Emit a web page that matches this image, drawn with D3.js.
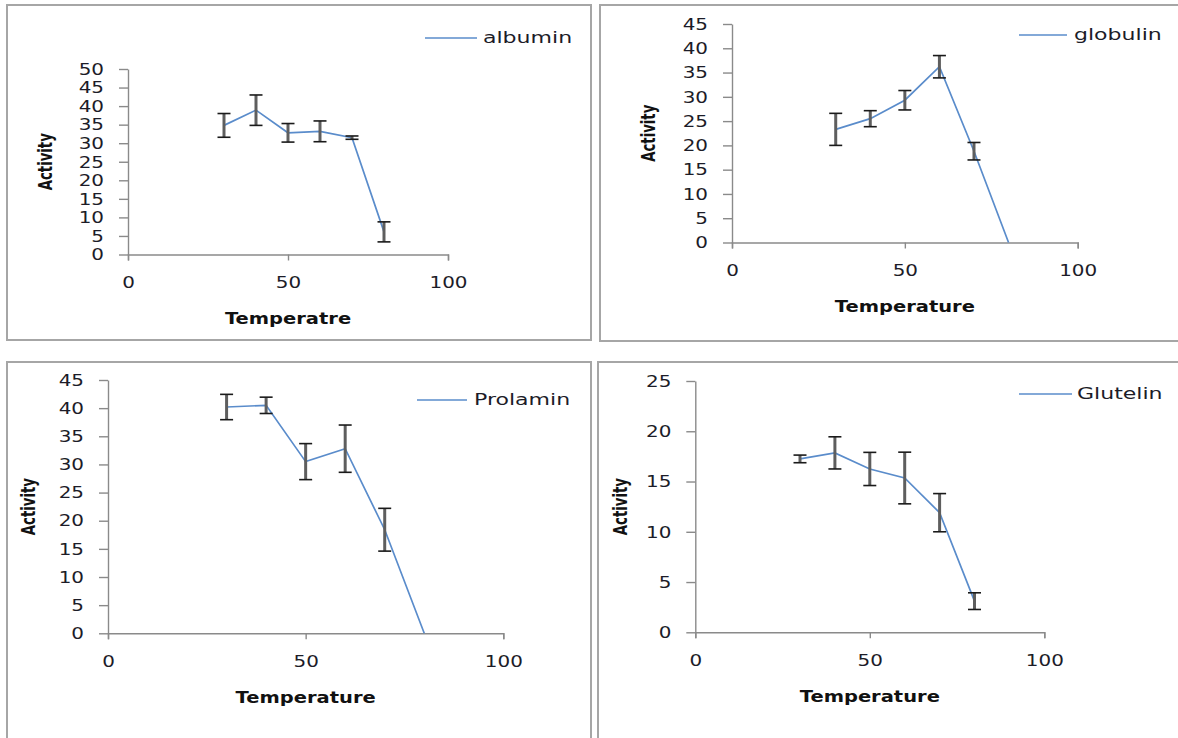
<!DOCTYPE html>
<html>
<head>
<meta charset="utf-8">
<script src="https://cdn.jsdelivr.net/npm/d3@7"></script>
<style>
  html, body { margin: 0; padding: 0; background: #fff; }
  svg { display: block; }
</style>
</head>
<body>
<div id="chart"></div>
<script>
// data
var temps = [30, 40, 50, 60, 70, 80];

var albumin    = [34.8, 38.9, 32.8, 33.2, 31.5, 6.1];
var albuminErr = [3.2, 4.1, 2.5, 2.8, 0.45, 2.7];

var globulin    = [23.3, 25.5, 29.3, 36.2, 18.8, 0];
var globulinErr = [3.3, 1.65, 2.0, 2.3, 1.8, 0];

var prolamin    = [40.2, 40.5, 30.5, 32.8, 18.4, 0];
var prolaminErr = [2.25, 1.45, 3.2, 4.2, 3.8, 0];

var glutelin    = [17.25, 17.85, 16.25, 15.35, 11.9, 3.1];
var glutelinErr = [0.38, 1.6, 1.65, 2.57, 1.9, 0.83];

var seriesNames = ["albumin", "globulin", "Prolamin", "Glutelin"];
var seriesValues = [albumin, globulin, prolamin, glutelin];
var seriesErrors = [albuminErr, globulinErr, prolaminErr, glutelinErr];
var yMax = [50, 45, 45, 25];
var xTicks = [0, 50, 100];
var xTitles = ["Temperatre", "Temperature", "Temperature", "Temperature"];
var yTitle = "Activity";

// layout of each panel (pixels)
var layout = [
  { box: [7, 5, 591, 340],   x: [128, 448],     y: [254.5, 69],  leg: [425, 477, 38, 483],   yTitleX: 45 },
  { box: [600, 5, 1190, 341], x: [732, 1077.7], y: [242.5, 24],  leg: [1019, 1067, 35, 1074], yTitleX: 648 },
  { box: [7, 362, 591, 760], x: [108, 503.3],   y: [633.3, 380], leg: [417, 467, 400, 474],  yTitleX: 28 },
  { box: [598, 362, 1190, 760], x: [695.3, 1044.3], y: [632.3, 381], leg: [1019, 1072, 394, 1077], yTitleX: 620 }
];

var width = 1178, height = 738;
var lineColor = "#5a8ccb";
var axisColor = "#8a8a8a";
var textColor = "#1c1c28";
var sx = 1.33;   // the source picture is stretched sideways

var svg = d3.select("#chart").append("svg")
    .attr("width", width).attr("height", height);

layout.forEach(function(L, k) {
  var g = svg.append("g").attr("class", "panel");

  g.append("rect")
    .attr("x", L.box[0]).attr("y", L.box[1])
    .attr("width", L.box[2] - L.box[0]).attr("height", L.box[3] - L.box[1])
    .attr("fill", "#fff").attr("stroke", "#a6a6a6").attr("stroke-width", 2);

  var xScale = d3.scaleLinear().domain([0, 100]).range(L.x);
  var yScale = d3.scaleLinear().domain([0, yMax[k]]).range(L.y);

  var xAxis = d3.axisBottom(xScale).tickValues(xTicks).tickSize(6).tickSizeOuter(6);
  var yAxis = d3.axisLeft(yScale).tickValues(d3.range(0, yMax[k] + 1, 5)).tickSize(9).tickSizeOuter(0);

  var gx = g.append("g").attr("transform", "translate(0," + L.y[0] + ")").call(xAxis);
  var gy = g.append("g").attr("transform", "translate(" + L.x[0] + ",0)").call(yAxis);

  [gx, gy].forEach(function(a) {
    a.select(".domain").attr("stroke", axisColor).attr("stroke-width", 1.4);
    a.selectAll(".tick line").attr("stroke", axisColor).attr("stroke-width", 1.4);
    a.selectAll("text")
      .attr("fill", textColor)
      .style("font-family", "'DejaVu Sans', Verdana, sans-serif")
      .style("font-size", "15px");
  });
  gx.selectAll("text").attr("y", 28).attr("dy", "0.35em")
    .attr("transform", "scale(" + sx + ",1)");
  gy.selectAll("text").attr("x", -24 / sx).attr("dy", "0.35em")
    .attr("transform", "scale(" + sx + ",1)");

  // series line
  var vals = seriesValues[k], errs = seriesErrors[k];
  var pts = temps.map(function(t, i) { return { t: t, v: vals[i], e: errs[i] }; });

  g.append("path")
    .datum(pts)
    .attr("fill", "none")
    .attr("stroke", lineColor)
    .attr("stroke-width", 1.7)
    .attr("d", d3.line()
      .x(function(d) { return xScale(d.t); })
      .y(function(d) { return yScale(d.v); }));

  // error bars
  var bars = g.selectAll(".err").data(pts.filter(function(d) { return d.e > 0; }))
    .enter().append("g").attr("class", "err");
  bars.append("line")
    .attr("x1", function(d) { return xScale(d.t); })
    .attr("x2", function(d) { return xScale(d.t); })
    .attr("y1", function(d) { return yScale(d.v + d.e); })
    .attr("y2", function(d) { return yScale(d.v - d.e); })
    .attr("stroke", "#5e5e5e").attr("stroke-width", 3);
  [1, -1].forEach(function(s) {
    bars.append("line")
      .attr("x1", function(d) { return xScale(d.t) - 6.5; })
      .attr("x2", function(d) { return xScale(d.t) + 6.5; })
      .attr("y1", function(d) { return yScale(d.v + s * d.e); })
      .attr("y2", function(d) { return yScale(d.v + s * d.e); })
      .attr("stroke", "#1a1a1a").attr("stroke-width", 1.6);
  });

  // legend
  g.append("line")
    .attr("x1", L.leg[0]).attr("x2", L.leg[1])
    .attr("y1", L.leg[2]).attr("y2", L.leg[2])
    .attr("stroke", lineColor).attr("stroke-width", 1.7);
  g.append("text")
    .attr("transform", "translate(" + L.leg[3] + "," + L.leg[2] + ") scale(1.47,1)")
    .attr("dy", "0.35em")
    .attr("fill", textColor)
    .style("font-family", "'DejaVu Sans', Verdana, sans-serif")
    .style("font-size", "15px")
    .text(seriesNames[k]);

  // axis titles
  g.append("text")
    .attr("transform", "translate(" + xScale(50) + "," + (L.y[0] + 64) + ") scale(1.3,1)")
    .attr("text-anchor", "middle")
    .attr("dy", "0.35em")
    .attr("fill", "#111")
    .style("font-family", "'DejaVu Sans', Verdana, sans-serif")
    .style("font-weight", "bold")
    .style("font-size", "15px")
    .text(xTitles[k]);

  g.append("text")
    .attr("transform", "translate(" + L.yTitleX + "," + ((L.y[0] + L.y[1]) / 2) + ") scale(1.3,1) rotate(-90)")
    .attr("text-anchor", "middle")
    .attr("dy", "0.35em")
    .attr("fill", "#111")
    .attr("textLength", 57)
    .attr("lengthAdjust", "spacingAndGlyphs")
    .style("font-family", "'Liberation Sans Narrow', 'DejaVu Sans Condensed', sans-serif")
    .style("font-weight", "bold")
    .style("font-size", "15px")
    .text(yTitle);
});
</script>
</body>
</html>
